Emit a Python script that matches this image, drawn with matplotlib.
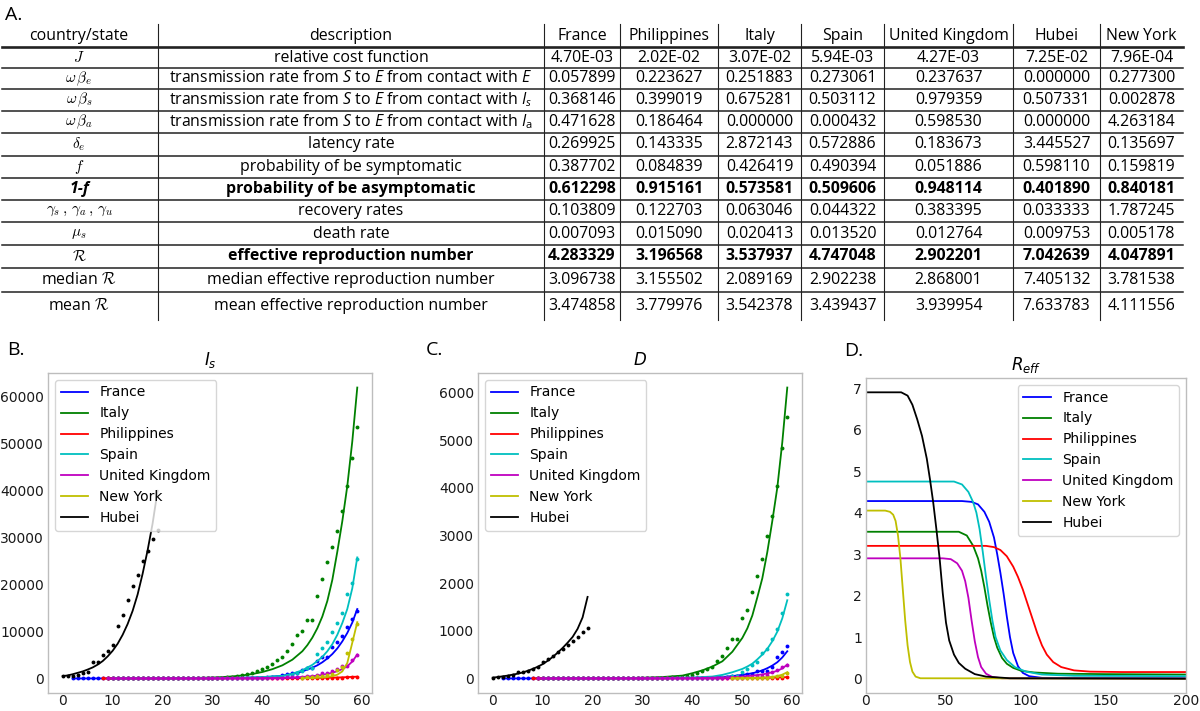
import matplotlib
matplotlib.use("Agg")
import matplotlib.pyplot as plt
import numpy as np

plt.rcParams["mathtext.fontset"] = "custom"
plt.rcParams["mathtext.rm"] = "Open Sans"
plt.rcParams["mathtext.it"] = "Open Sans:italic"
plt.rcParams["mathtext.bf"] = "Open Sans:bold"

W, H = 1200, 711
TABLE_FONT = "Open Sans"

# ---------------------------------------------------------------------------
# Table A
# ---------------------------------------------------------------------------
table_countries = ["France", "Philippines", "Italy", "Spain", "United Kingdom", "Hubei", "New York"]
row_symbols = [r"$J$", r"$\omega\,\beta_e$", r"$\omega\,\beta_s$", r"$\omega\,\beta_a$", r"$\delta_e$",
               r"$f$", "1-f", r"$\gamma_s\,,\,\gamma_a\,,\,\gamma_u$", r"$\mu_s$", r"$\mathcal{R}$",
               r"median $\mathcal{R}$", r"mean $\mathcal{R}$"]
row_descriptions = ["relative cost function",
                    r"transmission rate from $S$ to $E$ from contact with $E$",
                    r"transmission rate from $S$ to $E$ from contact with $I_s$",
                    r"transmission rate from $S$ to $E$ from contact with $I_\mathrm{a}$",
                    "latency rate",
                    "probability of be symptomatic",
                    "probability of be asymptomatic",
                    "recovery rates",
                    "death rate",
                    "effective reproduction number",
                    "median effective reproduction number",
                    "mean effective reproduction number"]
J_cost = [4.70e-3, 2.02e-2, 3.07e-2, 5.94e-3, 4.27e-3, 7.25e-2, 7.96e-4]
omega_beta_e = [0.057899, 0.223627, 0.251883, 0.273061, 0.237637, 0.000000, 0.277300]
omega_beta_s = [0.368146, 0.399019, 0.675281, 0.503112, 0.979359, 0.507331, 0.002878]
omega_beta_a = [0.471628, 0.186464, 0.000000, 0.000432, 0.598530, 0.000000, 4.263184]
delta_e = [0.269925, 0.143335, 2.872143, 0.572886, 0.183673, 3.445527, 0.135697]
f_symp = [0.387702, 0.084839, 0.426419, 0.490394, 0.051886, 0.598110, 0.159819]
one_minus_f = [0.612298, 0.915161, 0.573581, 0.509606, 0.948114, 0.401890, 0.840181]
gamma_rec = [0.103809, 0.122703, 0.063046, 0.044322, 0.383395, 0.033333, 1.787245]
mu_s = [0.007093, 0.015090, 0.020413, 0.013520, 0.012764, 0.009753, 0.005178]
R_eff = [4.283329, 3.196568, 3.537937, 4.747048, 2.902201, 7.042639, 4.047891]
R_median = [3.096738, 3.155502, 2.089169, 2.902238, 2.868001, 7.405132, 3.781538]
R_mean = [3.474858, 3.779976, 3.542378, 3.439437, 3.939954, 7.633783, 4.111556]
bold_rows = [6, 9]

# ---------------------------------------------------------------------------
# Panel B (I_s) - observed cumulative cases (dots) and model curves
# ---------------------------------------------------------------------------
fr_start, it_start, ph_start, es_start, uk_start, ny_start, hb_start = 2, 9, 8, 10, 9, 48, 0

fr_cases = [2, 3, 3, 3, 4, 5, 5, 5,
            6, 6, 6, 6, 6, 6, 6, 11, 11, 11, 11, 11, 11, 11, 12, 12, 12, 12, 12, 12, 12, 12, 12, 12,
            14, 18, 38, 57, 100,
            130, 191, 204, 288, 380, 656, 959, 1136, 1219, 1794, 2293, 2293, 3681, 4496, 4532, 6683,
            7715, 9124, 10970, 12758, 14463]
it_cases = [2, 2, 2, 2, 2, 2, 2, 3, 3, 3, 3, 3, 3, 3, 3, 3, 3, 3, 3, 3, 3,
            20, 62, 155, 229, 322, 453, 655, 888, 1128,
            1694, 2036, 2502, 3089, 3858, 4636, 5883, 7375, 9172, 10149, 12462, 12462, 17660, 21157,
            24747, 27980, 31506, 35713, 41035, 47021, 53578]
ph_cases = [1, 1, 1, 2, 2, 2] + [3] * 30 + [5, 6, 10, 20, 33, 49, 52, 64, 111, 140, 142, 187, 202,
                                           217, 230, 307]
es_cases = [1] * 8 + [2] * 16 + [6, 13, 15, 32, 45,
            84, 120, 165, 222, 259, 400, 500, 673, 1073, 1695, 2277, 2277, 5232, 6391, 7798, 9942,
            11748, 13910, 17963, 20410, 25374]
uk_cases = [2] * 7 + [3, 3, 3, 8, 8, 8] + [9] * 12 + [13, 13, 15, 20, 23,
            36, 40, 51, 86, 116, 164, 207, 274, 322, 384, 459, 459, 802, 1144, 1145, 1551, 1960,
            2642, 2716, 4014, 5067]
ny_cases = [173, 220, 328, 421, 525, 732, 967, 1706, 2495, 5365, 8310, 11710]
hb_cases = [444, 444, 549, 761, 1058, 1423, 3554, 3554, 4903, 5806, 7153, 11177, 13522, 16678,
            19665, 22112, 24953, 27100, 29631, 31728]

fr_is_fit_x = [2, 20, 30, 35, 40, 42, 44, 46, 48, 50, 51, 52, 53, 54, 55, 56, 57, 58, 59]
fr_is_fit_y = [0, 10, 50, 120, 250, 400, 600, 950, 1500, 2300, 2800, 3450, 4250, 5200, 6400, 7900,
               9700, 11900, 14800]
it_is_fit_x = [9, 20, 25, 30, 32, 34, 36, 38, 40, 42, 44, 46, 48, 49, 50, 51, 52, 53, 54, 55, 56,
               57, 58, 59]
it_is_fit_y = [2, 25, 70, 200, 300, 440, 650, 950, 1380, 1980, 2800, 4000, 5800, 7100, 8700, 10700,
               13200, 16500, 21000, 27000, 33500, 41000, 50500, 62000]
ph_is_fit_x = [8, 40, 50, 55, 59]
ph_is_fit_y = [0, 20, 100, 200, 380]
es_is_fit_x = [10, 25, 30, 35, 40, 42, 44, 46, 48, 50, 51, 52, 53, 54, 55, 56, 57, 58, 59]
es_is_fit_y = [0, 20, 50, 130, 300, 420, 550, 1000, 1750, 2900, 3700, 4600, 5800, 7300, 9300, 11800,
               14800, 19200, 25800]
uk_is_fit_x = [9, 30, 40, 44, 46, 48, 50, 51, 52, 53, 54, 55, 56, 57, 58, 59]
uk_is_fit_y = [0, 15, 80, 150, 200, 320, 480, 600, 760, 960, 1220, 1540, 2000, 2600, 3600, 5100]
ny_is_fit_x = [48, 50, 52, 53, 54, 55, 56, 57, 58, 59]
ny_is_fit_y = [50, 110, 220, 320, 480, 800, 1500, 3300, 7600, 12000]
hb_is_fit_x = list(range(0, 20))
hb_is_fit_y = [500, 650, 900, 1200, 1500, 1900, 2350, 2950, 3700, 4700, 5900, 7400, 9300, 11600,
               14400, 17900, 22300, 27300, 33000, 40000]

# ---------------------------------------------------------------------------
# Panel C (D) - observed deaths (dots) and model curves
# ---------------------------------------------------------------------------
fr_deaths = [0] * 21 + [1] * 11 + [2] * 5 + [3, 4, 4, 6, 9, 11, 19, 19, 33, 48, 48, 79, 91, 91, 148,
                                            148, 148, 243, 450, 562, 674]
it_deaths = [0] * 20 + [1, 2, 3, 7, 10, 12, 17, 21, 29, 34, 52, 79, 107, 148, 197, 233, 366, 463, 631,
                        827, 827, 1266, 1441, 1809, 2158, 2503, 2978, 3405, 4032, 4825, 5476]
ph_deaths = [0, 0] + [1] * 38 + [2, 2, 2, 8, 11, 12, 12, 17, 17, 18, 19, 25]
es_deaths = [0] * 30 + [1, 2, 3, 5, 10, 17, 28, 35, 54, 55, 133, 195, 289, 342, 533, 623, 830, 1043,
                        1375, 1772]
uk_deaths = [0] * 35 + [2, 2, 3, 7, 7, 8, 8, 21, 21, 56, 56, 72, 138, 178, 234, 282]
ny_deaths = [0, 0, 0, 2, 3, 7, 12, 12, 35, 44, 60, 114]
hb_deaths = [17, 24, 40, 52, 76, 125, 125, 162, 204, 249, 350, 414, 479, 549, 618, 699, 780, 871, 974,
             1068]

fr_d_fit_x = [2, 30, 40, 44, 46, 48, 50, 52, 53, 54, 55, 56, 57, 58, 59]
fr_d_fit_y = [0, 3, 12, 22, 30, 50, 75, 110, 135, 170, 215, 270, 340, 440, 570]
it_d_fit_x = [9, 25, 30, 34, 38, 40, 42, 44, 46, 48, 50, 51, 52, 53, 54, 55, 56, 57, 58, 59]
it_d_fit_y = [0, 5, 15, 30, 60, 110, 170, 250, 360, 560, 850, 1050, 1320, 1700, 2100, 2650, 3300,
              4000, 4950, 6100]
ph_d_fit_x = [8, 40, 50, 55, 59]
ph_d_fit_y = [0, 3, 8, 15, 28]
es_d_fit_x = [10, 30, 40, 44, 46, 48, 50, 51, 52, 53, 54, 55, 56, 57, 58, 59]
es_d_fit_y = [0, 3, 20, 40, 75, 130, 200, 250, 310, 400, 500, 620, 780, 980, 1260, 1640]
uk_d_fit_x = [9, 40, 46, 50, 52, 54, 55, 56, 57, 58, 59]
uk_d_fit_y = [0, 5, 20, 40, 60, 85, 105, 130, 160, 210, 290]
ny_d_fit_x = [48, 50, 52, 54, 55, 56, 57, 58, 59]
ny_d_fit_y = [2, 5, 10, 18, 25, 32, 50, 80, 130]
hb_d_fit_x = list(range(0, 20))
hb_d_fit_y = [17, 30, 45, 60, 80, 100, 125, 160, 200, 245, 300, 370, 450, 540, 640, 750, 870, 1040,
              1280, 1710]

# ---------------------------------------------------------------------------
# Panel D (R_eff) curves
# ---------------------------------------------------------------------------
fr_r_x = [0, 60, 66, 70, 74, 77, 80, 82, 84, 86, 88, 90, 92, 95, 98, 102, 110, 200]
fr_r_y = [4.28, 4.28, 4.26, 4.2, 4.02, 3.78, 3.4, 3.0, 2.55, 2.05, 1.5, 1.0, 0.62, 0.3, 0.14, 0.06,
          0.02, 0.01]
it_r_x = [0, 58, 63, 67, 70, 72, 74, 76, 78, 80, 82, 85, 88, 92, 97, 105, 120, 150, 200]
it_r_y = [3.54, 3.54, 3.45, 3.2, 2.9, 2.6, 2.2, 1.75, 1.35, 1.0, 0.75, 0.5, 0.36, 0.26, 0.19, 0.15,
          0.12, 0.11, 0.1]
ph_r_x = [0, 75, 80, 84, 88, 92, 95, 98, 101, 104, 107, 110, 113, 117, 122, 130, 140, 160, 200]
ph_r_y = [3.2, 3.2, 3.17, 3.1, 2.95, 2.7, 2.45, 2.15, 1.8, 1.45, 1.1, 0.8, 0.58, 0.4, 0.28, 0.2, 0.17,
          0.16, 0.16]
es_r_x = [0, 55, 60, 64, 67, 69, 71, 73, 75, 77, 79, 81, 84, 88, 93, 100, 110, 130, 200]
es_r_y = [4.75, 4.75, 4.68, 4.5, 4.25, 4.0, 3.6, 3.05, 2.45, 1.9, 1.4, 1.0, 0.68, 0.45, 0.28, 0.17,
          0.1, 0.07, 0.06]
uk_r_x = [0, 48, 53, 57, 60, 62, 64, 66, 68, 70, 72, 75, 79, 85, 200]
uk_r_y = [2.9, 2.9, 2.88, 2.78, 2.6, 2.35, 1.95, 1.4, 0.9, 0.52, 0.28, 0.12, 0.04, 0.01, 0.0]
ny_r_x = [0, 12, 15, 17, 18.5, 20, 21.5, 23, 24.5, 26, 27.5, 29, 31, 34, 200]
ny_r_y = [4.05, 4.05, 4.02, 3.95, 3.8, 3.45, 2.9, 2.15, 1.4, 0.8, 0.4, 0.17, 0.05, 0.01, 0.0]
hb_r_x = [0, 22, 26, 29, 32, 35, 38, 40, 42, 44, 46, 48, 50, 52, 55, 58, 62, 68, 75, 90, 200]
hb_r_y = [6.9, 6.9, 6.82, 6.6, 6.25, 5.85, 5.3, 4.8, 4.25, 3.6, 2.9, 2.05, 1.35, 0.92, 0.58, 0.38,
          0.24, 0.11, 0.05, 0.01, 0.0]

series_names = ["France", "Italy", "Philippines", "Spain", "United Kingdom", "New York", "Hubei"]
series_colors = ["b", "g", "r", "c", "m", "y", "k"]
starts = [fr_start, it_start, ph_start, es_start, uk_start, ny_start, hb_start]
cases_obs = [fr_cases, it_cases, ph_cases, es_cases, uk_cases, ny_cases, hb_cases]
deaths_obs = [fr_deaths, it_deaths, ph_deaths, es_deaths, uk_deaths, ny_deaths, hb_deaths]
is_fits = [(fr_is_fit_x, fr_is_fit_y), (it_is_fit_x, it_is_fit_y), (ph_is_fit_x, ph_is_fit_y),
           (es_is_fit_x, es_is_fit_y), (uk_is_fit_x, uk_is_fit_y), (ny_is_fit_x, ny_is_fit_y),
           (hb_is_fit_x, hb_is_fit_y)]
d_fits = [(fr_d_fit_x, fr_d_fit_y), (it_d_fit_x, it_d_fit_y), (ph_d_fit_x, ph_d_fit_y),
          (es_d_fit_x, es_d_fit_y), (uk_d_fit_x, uk_d_fit_y), (ny_d_fit_x, ny_d_fit_y),
          (hb_d_fit_x, hb_d_fit_y)]
r_curves = [(fr_r_x, fr_r_y), (it_r_x, it_r_y), (ph_r_x, ph_r_y), (es_r_x, es_r_y),
            (uk_r_x, uk_r_y), (ny_r_x, ny_r_y), (hb_r_x, hb_r_y)]

# ---------------------------------------------------------------------------
fig = plt.figure(figsize=(W / 100, H / 100), dpi=100)
fig.patch.set_facecolor("white")

# overlay axes in pixel coordinates for the table and panel letters
tax = fig.add_axes([0, 0, 1, 1])
tax.set_xlim(0, W)
tax.set_ylim(H, 0)
tax.axis("off")

col_edges = [0, 158, 544, 620, 718, 801, 884, 1013, 1100, 1183]
row_edges = [24, 47, 68, 89, 111, 133, 156, 178, 200, 222, 245, 268, 292, 320]
TFS = 11.4

for xe in col_edges[1:-1]:
    tax.plot([xe, xe], [row_edges[0], row_edges[-1]], color="#222222", lw=0.8)
for k, ye in enumerate(row_edges[1:-1]):
    tax.plot([2, col_edges[-1]], [ye, ye], color="#222222", lw=1.9 if k == 0 else 1.1)

col_mid = [(a + b) / 2 for a, b in zip(col_edges[:-1], col_edges[1:])]
row_mid = [(a + b) / 2 for a, b in zip(row_edges[:-1], row_edges[1:])]

header = ["country/state", "description"] + table_countries
for cx, label in zip(col_mid, header):
    tax.text(cx, row_mid[0], label, ha="center", va="center", fontsize=TFS, family=TABLE_FONT)

table_values = [J_cost, omega_beta_e, omega_beta_s, omega_beta_a, delta_e, f_symp, one_minus_f,
                gamma_rec, mu_s, R_eff, R_median, R_mean]
for i, (sym, desc, vals) in enumerate(zip(row_symbols, row_descriptions, table_values)):
    y = row_mid[i + 1]
    weight = "bold" if i in bold_rows else "normal"
    if sym == "1-f":
        tax.text(col_mid[0], y, sym, ha="center", va="center", fontsize=TFS, family=TABLE_FONT,
                 fontweight="bold", fontstyle="italic")
    elif sym.startswith("$"):
        tax.text(col_mid[0], y, sym, ha="center", va="center", fontsize=11, math_fontfamily="cm")
    else:
        tax.text(col_mid[0], y, sym, ha="center", va="center", fontsize=TFS, family=TABLE_FONT,
                 math_fontfamily="cm")
    tax.text(col_mid[1], y, desc, ha="center", va="center", fontsize=TFS, family=TABLE_FONT,
             fontweight=weight)
    for j, v in enumerate(vals):
        s = f"{v:.2E}" if i == 0 else f"{v:.6f}"
        tax.text(col_mid[2 + j], y, s, ha="center", va="center", fontsize=TFS, family=TABLE_FONT,
                 fontweight=weight)

for lbl, (lx, ly) in zip(["A.", "B.", "C.", "D."], [(5, 15), (7, 350), (426, 350), (844, 351)]):
    tax.text(lx, ly, lbl, ha="left", va="center", fontsize=14, family=TABLE_FONT)


def style_axes(ax):
    ax.set_facecolor("white")
    for sp in ax.spines.values():
        sp.set_color("#bdbdbd")
        sp.set_linewidth(1.0)
    ax.tick_params(length=0, labelsize=10, colors="#1a1a1a")
    ax.tick_params(axis="x", pad=1)
    ax.tick_params(axis="y", pad=3)


axB = fig.add_axes([48 / W, 18 / H, 324 / W, 320 / H])
axC = fig.add_axes([478 / W, 18 / H, 324 / W, 320 / H])
axD = fig.add_axes([866 / W, 18 / H, 320 / W, 315 / H])

for ax, obs_list, fits in [(axB, cases_obs, is_fits), (axC, deaths_obs, d_fits)]:
    style_axes(ax)
    for name, col, st, obs, (fx, fy) in zip(series_names, series_colors, starts, obs_list, fits):
        ax.plot(fx, fy, color=col, lw=1.3, label=name)
        ax.plot(np.arange(st, st + len(obs)), obs, "o", color=col, ms=2.8, mew=0)
    ax.legend(loc="upper left", fontsize=10, framealpha=0.8)

axB.set_title(r"$I_s$", fontsize=12, math_fontfamily="dejavusans")
axC.set_title(r"$D$", fontsize=12, math_fontfamily="dejavusans")

style_axes(axD)
for name, col, (rx, ry) in zip(series_names, series_colors, r_curves):
    axD.plot(rx, ry, color=col, lw=1.3, label=name)
axD.set_xlim(0, 200)
axD.set_xticks([0, 50, 100, 150, 200])
axD.legend(loc="upper right", fontsize=10, framealpha=0.8)
axD.set_title(r"$R_{eff}$", fontsize=12, math_fontfamily="dejavusans")

fig.savefig("out.png", dpi=100, facecolor="white")
